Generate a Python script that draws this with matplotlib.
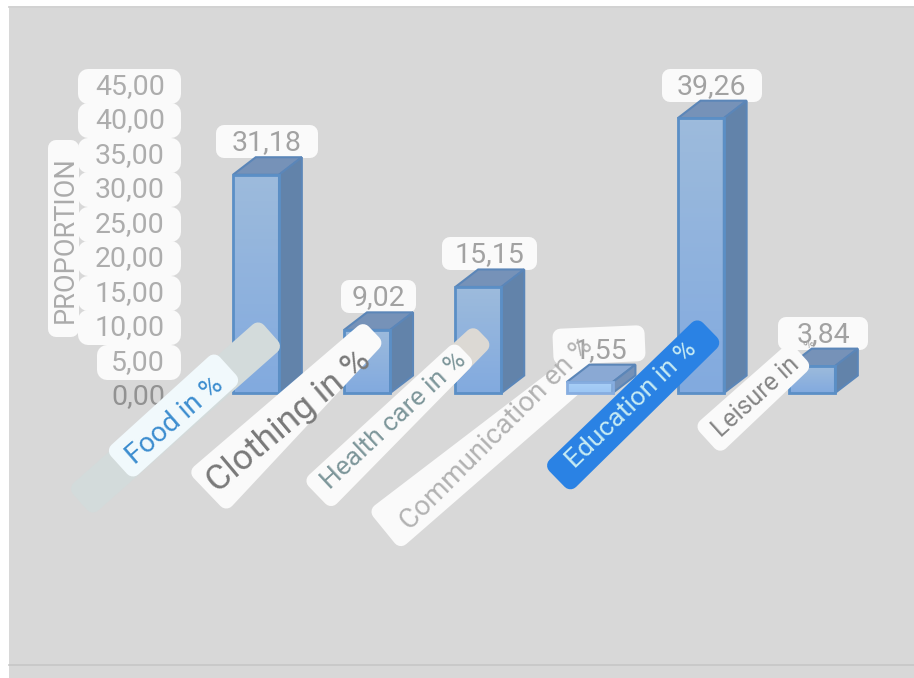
import numpy as np
import matplotlib
matplotlib.use("Agg")
import matplotlib.pyplot as plt
from matplotlib.colors import LinearSegmentedColormap
from matplotlib.patches import Polygon, Rectangle
from matplotlib.transforms import Affine2D

plt.rcParams['font.family'] = ['Roboto', 'DejaVu Sans']

# Data
values = [31.18, 9.02, 15.15, 1.55, 39.26, 3.84]
ticks = [0, 5, 10, 15, 20, 25, 30, 35, 40, 45]
ylabel = "PROPORTION"
labels = ["Food in %", "Clothing in %", "Health care in %", "Communication en %", "Education in %", "Leisure in"]

W, H = 914, 678
fig = plt.figure(figsize=(W / 100, H / 100), dpi=100, facecolor="white")
ax = fig.add_axes([0, 0, 1, 1])
ax.axis("off")
ax.set_xlim((0 - 256) / 111.2, (W - 256) / 111.2)
ax.set_ylim((393 - H) / 7, 393 / 7)

# pixel coordinates (y down) for the decorations around the bars
pix = Affine2D().scale(1, -1).translate(0, H)


def num(v):
    return f"{v:.2f}".replace(".", ",")


def strip(p0, p1, w0, w1, color, z=5, r=8):
    # tapered label strip with round corners
    p0, p1 = np.array(p0, float), np.array(p1, float)
    d = (p1 - p0) / np.hypot(*(p1 - p0))
    n = np.array([-d[1], d[0]])
    a, b = p0 + d * r, p1 - d * r
    pts = [a + n * (w0 / 2 - r), b + n * (w1 / 2 - r), b - n * (w1 / 2 - r), a - n * (w0 / 2 - r)]
    ax.add_patch(Polygon(pts, closed=True, facecolor=color, edgecolor=color, lw=2 * r * 0.72,
                         joinstyle="round", transform=pix, zorder=z))


# background panel
ax.add_patch(Rectangle((9, 8), W - 9, H - 8, facecolor="#d8d8d8", edgecolor="none", transform=pix, zorder=0))
ax.plot([9, W], [7, 7], color="#c9c9c9", lw=1.2, transform=pix, zorder=0.5)
ax.plot([9, W], [665, 665], color="#c6c6c6", lw=1.2, transform=pix, zorder=0.5)

# Communication strip and its value box sit behind the bars
strip((384, 530), (590, 362), 50, 34, "#fafafa", z=1)
strip((553, 347), (645, 343), 36, 36, "#fafafa", z=1)

# 3D bars
half_w = 0.207
depth_x = 0.205
depth_y = 2.5
for i, v in enumerate(values):
    x0, x1 = i - half_w, i + half_w
    light = i == 3
    colors = ["#a9cff7", "#9cc6f4"] if light else ["#9dbbdc", "#82aadf"]
    cmap = LinearSegmentedColormap.from_list("front", colors)
    im = ax.imshow(np.linspace(0, 1, 64).reshape(-1, 1), cmap=cmap, extent=(x0, x1, 0, v),
                   origin="upper", aspect="auto", zorder=2)
    front = Polygon([(x0, 0), (x1, 0), (x1, v), (x0, v)], closed=True, facecolor="none",
                    edgecolor="#86ade0" if light else "#5b8fc6", lw=2, zorder=2.2)
    ax.add_patch(front)
    im.set_clip_path(front)
    ax.add_patch(Polygon([(x0, v), (x1, v), (x1 + depth_x, v + depth_y), (x0 + depth_x, v + depth_y)],
                         closed=True, facecolor="#8aa9d4" if light else "#7692b8",
                         edgecolor="#5b86b8", lw=1.5, zorder=2.1))
    ax.add_patch(Polygon([(x1, 0), (x1 + depth_x, depth_y), (x1 + depth_x, v + depth_y), (x1, v)],
                         closed=True, facecolor="#7491b8" if light else "#6283aa",
                         edgecolor="#5b86b8", lw=1.5, zorder=2.1))

ax.set_xlim((0 - 256) / 111.2, (W - 256) / 111.2)
ax.set_ylim((393 - H) / 7, 393 / 7)

# value labels on white boxes, placed from the bar tops
box_widths = [102, 75, 95, 0, 100, 90]
for i, v in enumerate(values):
    px, py = ax.transData.transform((i, v))
    cx, cy = px + 11, H - py - 33
    if box_widths[i]:
        strip((cx - box_widths[i] / 2, cy), (cx + box_widths[i] / 2, cy), 33, 33, "#fafafa", z=1.2)
    ax.text(cx, cy + 1, num(v), transform=pix, ha="center", va="center", fontsize=20.5, color="#a2a2a2",
            zorder=1.5 if i == 3 else 4)

# axis tick labels, each on its own white box except the baseline
for t in ticks:
    y = 397 - t * 6.91
    if t:
        strip((97 if t == 5 else 78, y), (181, y), 35, 35, "#fafafa", z=1.3, r=10)
    ax.text(165, y, num(t), transform=pix, ha="right", va="center", fontsize=20.5,
            color="#adadad" if t else "#929292", zorder=4)
strip((63, 337), (63, 140), 31, 31, "#fafafa", z=1.25)
ax.text(65, 240, ylabel, transform=pix, rotation=90, ha="center", va="center", fontsize=19.5, color="#ababab",
        zorder=3)

# slanted category labels
strip((80, 502), (271, 333), 37, 37, "#d3dbdb")
strip((119, 465), (228, 366), 40, 40, "#f1f9fc", z=5.1)
strip((207, 492), (374, 332), 55, 31, "#fafafa")
strip((317, 495), (483, 335), 40, 28, "#dcd9d4")
strip((317, 495), (465, 352), 40, 30, "#fafafa", z=5.1)
strip((557, 479), (710, 330), 38, 36, "#2a82e4")
strip((707, 440), (801, 354), 38, 34, "#fafafa")

centers = [(175, 420), (289, 421), (394, 421), (497, 434), (632, 405), (756, 397)]
angles = [41, 40, 43, 45, 44, 42]
sizes = [20, 25.5, 19, 20, 19, 18]
text_colors = ["#3c8dcf", "#7a7a7a", "#7d969a", "#b2b2b2", "#c6ebf4", "#858585"]
for lab, c, a, s, col in zip(labels, centers, angles, sizes, text_colors):
    ax.text(c[0], c[1], lab, transform=pix, rotation=a, rotation_mode="anchor", ha="center", va="center",
            fontsize=s, color=col, zorder=6)
ax.text(809, 344, "%", transform=pix, rotation=42, rotation_mode="anchor", ha="center", va="center",
        fontsize=9, color="#9a9a9a", zorder=4.5)

fig.savefig("out.png", dpi=100)
